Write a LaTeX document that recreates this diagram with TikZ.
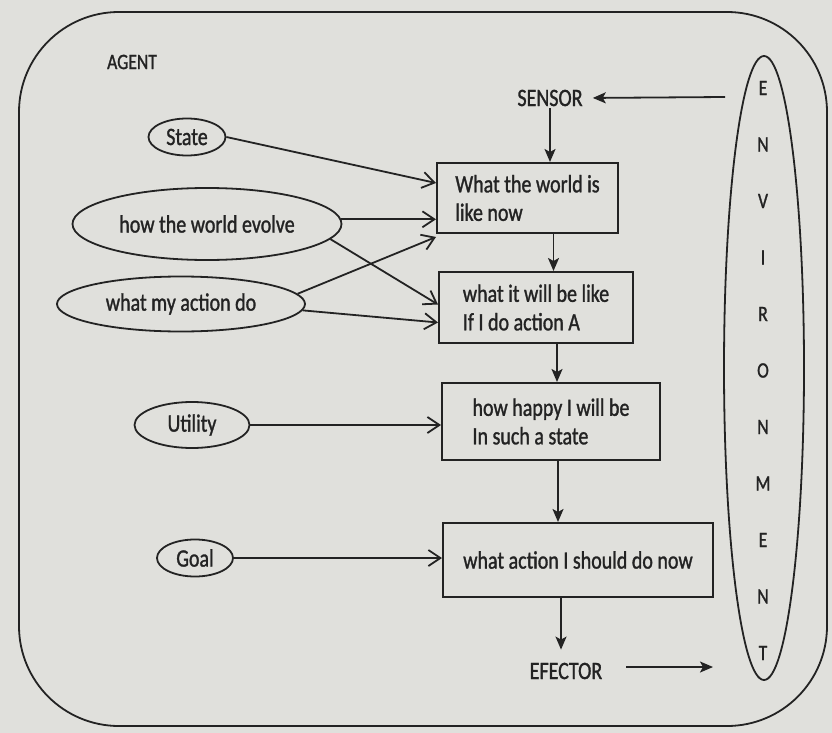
\documentclass[tikz,border=0pt]{standalone}
\usepackage{fontspec}
\newfontfamily\lab[FakeStretch=0.8,FakeBold=1.2]{Carlito}
\usetikzlibrary{arrows.meta,shapes.geometric,calc}
\definecolor{paper}{RGB}{224,224,220}
\definecolor{ink}{RGB}{35,35,35}
\begin{document}
\begin{tikzpicture}[x=1pt,y=-1pt,
  every node/.style={text=ink},
  lbl/.style={font=\lab\fontsize{25}{28}\selectfont, inner sep=2pt},
  oval/.style={ellipse, draw=ink, line width=1.8pt, inner sep=0pt, font=\lab\fontsize{25}{28}\selectfont},
  box/.style={rectangle, draw=ink, line width=2pt, align=left, inner sep=0pt, font=\lab\fontsize{25}{28.5}\selectfont},
  inarrow/.style={draw=ink, line width=1.8pt, -{Straight Barb[length=12pt,width=16pt]}},
  flowarrow/.style={draw=ink, line width=1.8pt, -{Stealth[length=13pt,width=11pt,inset=3pt]}}
]
\useasboundingbox (0,0) rectangle (832,733);
\fill[paper] (0,0) rectangle (832,733);
\draw[ink, line width=1.8pt, rounded corners=100pt] (19,12) rectangle (827,726);

% labels
\node[lbl, font=\lab\fontsize{22}{26}\selectfont] (agent) at (132,62) {AGENT};
\node[lbl] (sensor) at (550,98) {SENSOR};
\node[lbl] (efector) at (566,671) {EFECTOR};
\coordinate (sin) at (725,97);
\coordinate (eout) at (713,667);

% ovals
\node[oval, minimum width=77pt, minimum height=37pt] (state) at (187,137) {State};
\node[oval, minimum width=269pt, minimum height=72pt] (hwe) at (207,224) {how the world evolve};
\node[oval, minimum width=248pt, minimum height=55pt] (wmad) at (181,304) {what my action do};
\node[oval, minimum width=115pt, minimum height=46pt] (util) at (192,425) {Utility};
\node[oval, minimum width=76pt, minimum height=37pt] (goal) at (195,558) {Goal};

% boxes
\node[box, minimum width=181pt, minimum height=70pt] (b1) at (527.5,198) {What the world is\\like now};
\node[box, minimum width=194pt, minimum height=71pt] (b2) at (536,307.5) {what it will be like\\If I do action A};
\node[box, minimum width=218pt, minimum height=77pt] (b3) at (551,421.5) {how happy I will be\\In such a state};
\node[box, minimum width=270pt, minimum height=74pt] (b4) at (578,560) {what action I should do now};

% environment
\node[ellipse, draw=ink, line width=1.8pt, minimum width=80pt, minimum height=624pt, inner sep=0pt] (env) at (764,368) {};
\node[font=\lab\fontsize{22}{56.5}\selectfont, align=center, inner sep=0pt] (envtext) at (763,370.5) {E\\N\\V\\I\\R\\O\\N\\M\\E\\N\\T};

% flow arrows
\draw[flowarrow, shorten >=8pt] (sin) -- (sensor.east);
\draw[flowarrow] (sensor.south) -- (sensor.south |- b1.north);
\coordinate (a12) at ($(b1.south)+(26,0)$);
\draw[flowarrow] (a12) -- (a12 |- b2.north);
\coordinate (a23) at ($(b2.south)+(21,0)$);
\draw[flowarrow] (a23) -- (a23 |- b3.north);
\coordinate (a34) at ($(b3.south)+(7,0)$);
\draw[flowarrow] (a34) -- (a34 |- b4.north);
\coordinate (a4e) at ($(b4.south)+(-17,0)$);
\draw[flowarrow, shorten >=11pt] (a4e) -- (a4e |- efector.north);
\draw[flowarrow, shorten <=22pt] (efector.east |- eout) -- (eout);

% input arrows
\draw[inarrow] (state.east) -- ([yshift=15pt]b1.west);
\draw[inarrow] (hwe.2) -- (hwe.2 -| b1.west);
\draw[inarrow] (wmad.5) -- ([yshift=-39pt]b1.west);
\draw[inarrow] (hwe.-7) -- ([yshift=3pt]b2.west);
\draw[inarrow] (wmad.-3) -- ([yshift=-15pt]b2.west);
\draw[inarrow] (util.east) -- (util.east -| b3.west);
\draw[inarrow] (goal.east) -- (goal.east -| b4.west);
\end{tikzpicture}
\end{document}
